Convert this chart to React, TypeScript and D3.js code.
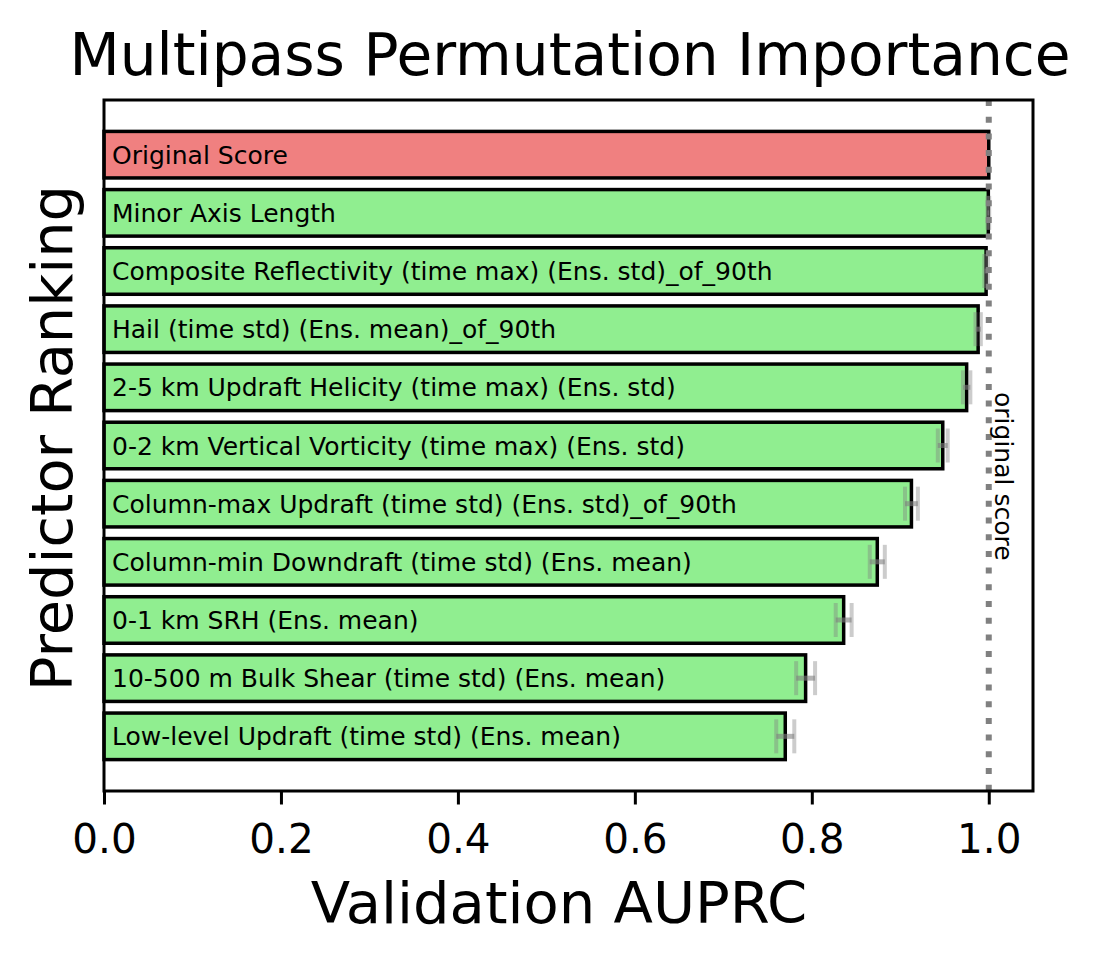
import React, { useEffect, useRef } from 'react';
import * as d3 from 'd3';

// Predictors, ranked top to bottom
const predictors = [
    'Original Score',
    'Minor Axis Length',
    'Composite Reflectivity (time max) (Ens. std)_of_90th',
    'Hail (time std) (Ens. mean)_of_90th',
    '2-5 km Updraft Helicity (time max) (Ens. std)',
    '0-2 km Vertical Vorticity (time max) (Ens. std)',
    'Column-max Updraft (time std) (Ens. std)_of_90th',
    'Column-min Downdraft (time std) (Ens. mean)',
    '0-1 km SRH (Ens. mean)',
    '10-500 m Bulk Shear (time std) (Ens. mean)',
    'Low-level Updraft (time std) (Ens. mean)',
];

const scores = [1.0, 0.9995, 0.997, 0.988, 0.975, 0.948, 0.9126, 0.874, 0.836, 0.793, 0.770];
const errors = [0, 0.001, 0.002, 0.003, 0.0042, 0.0056, 0.0073, 0.0085, 0.009, 0.0107, 0.0102];

const xTicks = [0, 0.2, 0.4, 0.6, 0.8, 1.0];
const originalScore = 1.0;

const App = () => {
    const svgRef = useRef<SVGSVGElement>(null);

    useEffect(() => {
        const svg = d3.select(svgRef.current);
        svg.selectAll('*').remove();

        const width = 1102;
        const height = 965;
        const margin = { top: 100, right: 69, bottom: 174, left: 104 };
        const font = 'DejaVu Sans, sans-serif';

        const data = predictors.map((name, i) => ({ name, i, score: scores[i], err: errors[i] }));

        const x = d3.scaleLinear()
            .domain([0, 1.05])
            .range([margin.left, width - margin.right]);

        // barh positions 0..n-1 with 0.8 height, plus 5% margins, inverted
        const n = data.length;
        const span = (n - 1) + 0.8;
        const pad = span * 0.05;
        const y = d3.scaleLinear()
            .domain([-0.4 - pad, n - 1 + 0.4 + pad])
            .range([margin.top, height - margin.bottom]);
        const barH = y(0.4) - y(-0.4);

        svg.attr('width', width).attr('height', height);

        // Bars
        svg.selectAll('.bar')
            .data(data)
            .join('rect')
            .attr('class', 'bar')
            .attr('x', x(0))
            .attr('y', (d) => y(d.i) - barH / 2)
            .attr('width', (d) => x(d.score) - x(0))
            .attr('height', barH)
            .attr('fill', (d) => (d.i === 0 ? '#F08080' : '#90EE90'))
            .attr('stroke', '#000')
            .attr('stroke-width', 3.5);

        // Error bars
        const capH = 34;
        const eb = svg.append('g');
        data.filter((d) => d.err > 0).forEach((d) => {
            const cy = y(d.i);
            eb.append('line')
                .attr('x1', x(d.score - d.err)).attr('x2', x(d.score + d.err))
                .attr('y1', cy).attr('y2', cy)
                .attr('stroke', '#808080').attr('stroke-opacity', 0.6).attr('stroke-width', 5);
            [d.score - d.err, d.score + d.err].forEach((v) => {
                eb.append('line')
                    .attr('x1', x(v)).attr('x2', x(v))
                    .attr('y1', cy - capH / 2).attr('y2', cy + capH / 2)
                    .attr('stroke', '#808080').attr('stroke-opacity', 0.4).attr('stroke-width', 4);
            });
        });

        // Original score reference line
        svg.append('line')
            .attr('x1', x(originalScore)).attr('x2', x(originalScore))
            .attr('y1', margin.top).attr('y2', height - margin.bottom)
            .attr('stroke', '#808080')
            .attr('stroke-width', 6)
            .attr('stroke-dasharray', '6 10.7');

        svg.append('text')
            .attr('transform', `translate(${x(originalScore) + 6},392) rotate(90)`)
            .attr('font-family', font)
            .attr('font-size', 25)
            .text('original score');

        // Bar labels
        svg.selectAll('.lbl')
            .data(data)
            .join('text')
            .attr('class', 'lbl')
            .attr('x', x(0) + 8)
            .attr('y', (d) => y(d.i))
            .attr('dy', '0.36em')
            .attr('font-family', font)
            .attr('font-size', 25)
            .text((d) => d.name);

        // Frame
        svg.append('rect')
            .attr('x', margin.left).attr('y', margin.top)
            .attr('width', width - margin.left - margin.right)
            .attr('height', height - margin.top - margin.bottom)
            .attr('fill', 'none').attr('stroke', '#000').attr('stroke-width', 3);

        // X-axis
        const xAxis = svg.append('g')
            .attr('transform', `translate(0,${height - margin.bottom})`)
            .call(d3.axisBottom(x).tickValues(xTicks).tickFormat(d3.format('.1f')).tickSize(13.5).tickPadding(19.5));
        xAxis.select('.domain').remove();
        xAxis.selectAll('line').attr('stroke-width', 3);
        xAxis.selectAll('text')
            .attr('font-family', font)
            .attr('font-size', 40.5)
            .attr('fill', '#000');

        // Axis titles
        svg.append('text')
            .attr('x', 559)
            .attr('y', 923)
            .attr('text-anchor', 'middle')
            .attr('font-family', font)
            .attr('font-size', 57.6)
            .text('Validation AUPRC');

        svg.append('text')
            .attr('transform', `translate(72,438) rotate(-90)`)
            .attr('text-anchor', 'middle')
            .attr('font-family', font)
            .attr('font-size', 57.3)
            .text('Predictor Ranking');

        svg.append('text')
            .attr('x', 570)
            .attr('y', 75)
            .attr('text-anchor', 'middle')
            .attr('font-family', font)
            .attr('font-size', 58.2)
            .text('Multipass Permutation Importance');
    }, []);

    return (
        <div>
            <svg ref={svgRef} style={{ position: 'absolute', left: 0, top: 0 }}></svg>
        </div>
    );
};

export default App;
